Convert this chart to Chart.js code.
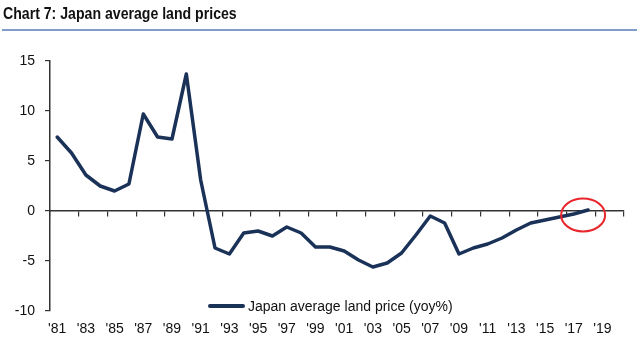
<!DOCTYPE html>
<html>
<head>
<meta charset="utf-8">
<script src="https://cdn.jsdelivr.net/npm/chart.js@4/dist/chart.umd.min.js"></script>
<style>
  html, body { margin: 0; padding: 0; background: #fff; }
  #wrap { position: relative; width: 640px; height: 360px; overflow: hidden; }
  #title { position: absolute; left: 3px; top: 4px; font-family: 'Liberation Sans', Arial, sans-serif; font-weight: bold; font-size: 17px; color: #111; white-space: nowrap; transform: scaleX(0.83); transform-origin: 0 0; }
  #rule { position: absolute; left: 2px; right: 3px; top: 29px; height: 2px; background: #7f9ccb; }
  #legend { position: absolute; left: 208px; top: 297px; height: 18px; display: flex; align-items: center; font-family: 'Liberation Sans', Arial, sans-serif; font-size: 14px; color: #111; white-space: nowrap; }
  #legend .swatch { width: 37px; height: 4px; background: #1a3158; margin-right: 3px; border-radius: 2px; }
  canvas { position: absolute; left: 0; top: 0; }
</style>
</head>
<body>
<div id="wrap">
  <canvas id="c" width="640" height="360"></canvas>
  <div id="title">Chart 7: Japan average land prices</div>
  <div id="rule"></div>
  <div id="legend"><span class="swatch"></span><span id="legendText"></span></div>
</div>
<script>
const years = [];
for (let y = 1981; y <= 2020; y++) years.push(String(y));
const tickLabels = ["'81","'83","'85","'87","'89","'91","'93","'95","'97","'99","'01","'03","'05","'07","'09","'11","'13","'15","'17","'19"];
const seriesName = "Japan average land price (yoy%)";
const landPrice = [7.4, 5.8, 3.6, 2.5, 2.0, 2.7, 9.7, 7.4, 7.2, 13.7,
  3.1, -3.7, -4.3, -2.2, -2.0, -2.5, -1.6, -2.2, -3.6, -3.6,
  -4.0, -4.9, -5.6, -5.2, -4.2, -2.4, -0.5, -1.2, -4.3, -3.7,
  -3.3, -2.7, -1.9, -1.2, -0.9, -0.6, -0.3, 0.1];
const yTicks = [-10, -5, 0, 5, 10, 15];
const highlightYear = "2018";

document.getElementById('legendText').textContent = seriesName;

const NAVY = '#1a3158';
const AXIS = '#333333';
const fontFam = "'Liberation Sans', Arial, sans-serif";

const circlePlugin = {
  id: 'circle',
  afterDatasetsDraw(chart) {
    const xs = chart.scales.x, ys = chart.scales.y;
    const cx = xs.getPixelForValue(years.indexOf(highlightYear)) - 5;
    const cy = ys.getPixelForValue(0) + 4;
    const ctx = chart.ctx;
    ctx.save();
    ctx.beginPath();
    ctx.ellipse(cx, cy, 22, 16.5, 0, 0, Math.PI * 2);
    ctx.strokeStyle = '#e8262b';
    ctx.lineWidth = 2;
    ctx.stroke();
    ctx.restore();
  }
};

new Chart(document.getElementById('c'), {
  type: 'line',
  data: {
    labels: years,
    datasets: [{
      label: seriesName,
      data: landPrice,
      borderColor: NAVY,
      backgroundColor: NAVY,
      borderWidth: 3.5,
      pointRadius: 0,
      tension: 0,
      borderJoinStyle: 'round',
      borderCapStyle: 'round',
      xAxisID: 'x',
      yAxisID: 'y'
    }]
  },
  options: {
    responsive: false,
    animation: false,
    events: [],
    layout: { padding: { left: 0, right: 16, top: 61, bottom: 0 } },
    plugins: { legend: { display: false }, tooltip: { enabled: false }, title: { display: false } },
    scales: {
      y: {
        position: 'left',
        min: -10, max: 15,
        afterBuildTicks(scale) { scale.ticks = yTicks.map(v => ({ value: v })); },
        afterFit(scale) { scale.width = 50; },
        grid: { drawOnChartArea: false, tickLength: 5, color: AXIS, lineWidth: 1.2 },
        border: { display: true, color: AXIS, width: 1.5 },
        ticks: { padding: 10, color: '#111', font: { family: fontFam, size: 14 } }
      },
      x: {
        type: 'category',
        position: { y: 0 },
        offset: true,
        grid: {
          offset: true, drawOnChartArea: false, tickLength: 5, lineWidth: 1.2,
          tickColor: (ctx) => (ctx.index === undefined || ctx.index % 2 === 0) ? AXIS : 'rgba(0,0,0,0)',
          color: AXIS
        },
        border: { display: true, color: AXIS, width: 1.5 },
        ticks: { display: false, autoSkip: false }
      },
      x2: {
        type: 'category',
        position: 'bottom',
        labels: years,
        offset: true,
        afterFit(scale) { scale.height = 49; },
        grid: { display: false, drawTicks: false },
        border: { display: false },
        ticks: {
          autoSkip: false, maxRotation: 0, minRotation: 0, padding: 10,
          color: '#111', font: { family: fontFam, size: 14 },
          callback: (v, i) => (i % 2 === 0 ? tickLabels[i / 2] : '')
        }
      }
    }
  },
  plugins: [circlePlugin]
});
</script>
</body>
</html>
